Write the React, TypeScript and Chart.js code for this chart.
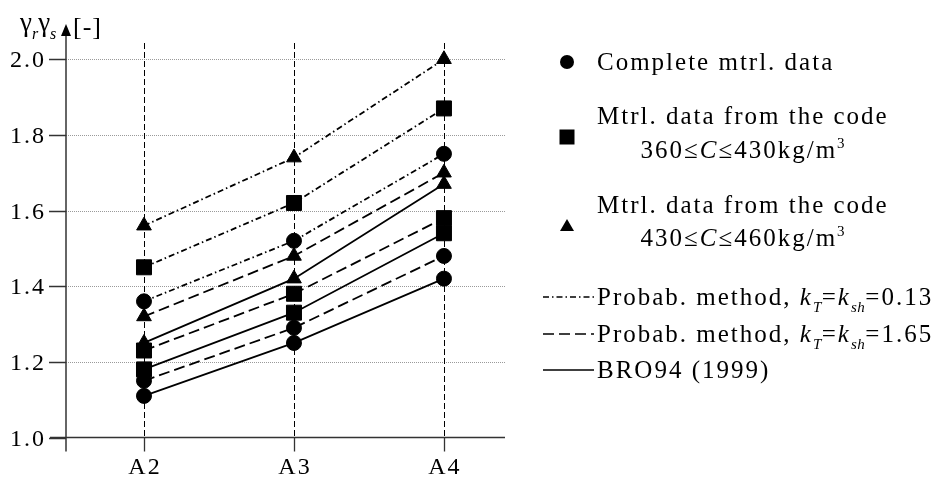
import React, { useEffect, useRef } from "react";
import { Chart, registerables } from "chart.js";

Chart.register(...registerables);

const categories = ["A2", "A3", "A4"];
const yTicks = [1.0, 1.2, 1.4, 1.6, 1.8, 2.0];

// Complete mtrl. data (circles)
const completeP013 = [1.36, 1.52, 1.75];
const completeP165 = [1.15, 1.29, 1.48];
const completeBRO = [1.11, 1.25, 1.42];
// Mtrl. data from the code 360<=C<=430 (squares)
const code360P013 = [1.45, 1.62, 1.87];
const code360P165 = [1.23, 1.38, 1.58];
const code360BRO = [1.18, 1.33, 1.54];
// Mtrl. data from the code 430<=C<=460 (triangles)
const code430P013 = [1.56, 1.74, 2.0];
const code430P165 = [1.32, 1.48, 1.7];
const code430BRO = [1.25, 1.42, 1.67];

const FONT = '"Liberation Serif", "Times New Roman", serif';
const DASHDOT = [6, 3, 1.5, 3];
const DASHED = [11, 5];

type Seg = { t: string; italic?: boolean; sub?: boolean; sup?: boolean };

function segFont(s: Seg, size: number) {
  const sz = s.sub || s.sup ? Math.round(size * 0.6) : size;
  return `${s.italic ? "italic " : ""}${sz}px ${FONT}`;
}

function segSpacing(s: Seg, spacing: number) {
  return s.sub || s.sup ? Math.min(spacing, 0.5) : spacing;
}

function drawRich(
  ctx: CanvasRenderingContext2D,
  segs: Seg[],
  x: number,
  y: number,
  size: number,
  align: "left" | "center" | "right",
  spacing = 2
) {
  ctx.save();
  ctx.textAlign = "left";
  ctx.textBaseline = "alphabetic";
  ctx.fillStyle = "#000";
  const widths = segs.map((s) => {
    (ctx as any).letterSpacing = segSpacing(s, spacing) + "px";
    ctx.font = segFont(s, size);
    return ctx.measureText(s.t).width;
  });
  const total = widths.reduce((a, b) => a + b, 0);
  let cx = align === "left" ? x : align === "center" ? x - total / 2 : x - total;
  segs.forEach((s, i) => {
    (ctx as any).letterSpacing = segSpacing(s, spacing) + "px";
    ctx.font = segFont(s, size);
    let dy = 0;
    if (s.sub) dy = size * 0.28;
    if (s.sup) dy = -size * 0.4;
    ctx.fillText(s.t, cx, y + dy);
    cx += widths[i];
  });
  ctx.restore();
  return total;
}

function textWidth(ctx: CanvasRenderingContext2D, segs: Seg[], size: number, spacing = 2) {
  ctx.save();
  let w = 0;
  segs.forEach((s) => {
    (ctx as any).letterSpacing = segSpacing(s, spacing) + "px";
    ctx.font = segFont(s, size);
    w += ctx.measureText(s.t).width;
  });
  ctx.restore();
  return w;
}

function line(ctx: CanvasRenderingContext2D, x1: number, y1: number, x2: number, y2: number) {
  ctx.beginPath();
  ctx.moveTo(x1, y1);
  ctx.lineTo(x2, y2);
  ctx.stroke();
}

const customPlugin = {
  id: "customAxes",
  beforeDatasetsDraw(chart: any) {
    const { ctx, chartArea: a, scales } = chart;
    const x = scales.x;
    const y = scales.y;
    ctx.save();
    // dotted horizontal grid
    ctx.strokeStyle = "#9a9a9a";
    ctx.lineWidth = 1;
    ctx.setLineDash([1, 1]);
    yTicks.forEach((v) => {
      if (v <= 1.0) return;
      const py = Math.round(y.getPixelForValue(v)) + 0.5;
      line(ctx, a.left, py, a.right, py);
    });
    // vertical dashed lines at categories
    ctx.strokeStyle = "#000";
    ctx.setLineDash([6, 3]);
    categories.forEach((_, i) => {
      const px = Math.round(x.getPixelForValue(i)) + 0.5;
      line(ctx, px, a.top + 14, px, a.bottom);
    });
    ctx.setLineDash([]);
    ctx.strokeStyle = "#333";
    ctx.lineWidth = 1.3;
    categories.forEach((_, i) => {
      const px = Math.round(x.getPixelForValue(i)) + 0.5;
      line(ctx, px, a.bottom, px, a.bottom + 14);
    });
    // x axis
    const by = y.getPixelForValue(1.0);
    ctx.lineWidth = 1.5;
    line(ctx, a.left - 16, by, a.right, by);
    // y axis
    line(ctx, a.left, a.bottom + 14, a.left, a.top + 2);
    // y ticks
    yTicks.forEach((v) => {
      const py = Math.round(y.getPixelForValue(v)) + 0.5;
      line(ctx, a.left - 17, py, a.left, py);
    });
    // arrow head
    ctx.fillStyle = "#000";
    ctx.beginPath();
    ctx.moveTo(a.left, a.top - 5);
    ctx.lineTo(a.left - 5, a.top + 7);
    ctx.lineTo(a.left + 5, a.top + 7);
    ctx.closePath();
    ctx.fill();
    ctx.restore();
  },
  afterDraw(chart: any) {
    const { ctx, chartArea: a, scales } = chart;
    const x = scales.x;
    const y = scales.y;
    // y tick labels
    yTicks.forEach((v) => {
      const py = y.getPixelForValue(v);
      drawRich(ctx, [{ t: v.toFixed(1) }], a.left - 20, py + 8, 24, "right", 2);
    });
    // x labels
    categories.forEach((c, i) => {
      const px = x.getPixelForValue(i);
      drawRich(ctx, [{ t: c }], px + 1, a.bottom + 36, 24, "center", 2);
    });
    // axis title
    drawRich(
      ctx,
      [{ t: "γ" }, { t: "r", italic: true, sub: true }, { t: "γ" }, { t: "s", italic: true, sub: true }],
      20,
      31,
      27,
      "left",
      0
    );
    drawRich(ctx, [{ t: "[-]" }], 73, 35, 26, "left", 1);

    // legend
    const lx = 567;
    const tx = 597;
    const size = 25;
    ctx.save();
    ctx.fillStyle = "#000";
    // circle
    ctx.beginPath();
    ctx.arc(lx, 62, 7, 0, Math.PI * 2);
    ctx.fill();
    // square
    ctx.fillRect(lx - 7.5, 137 - 7.5, 15, 15);
    // triangle
    ctx.beginPath();
    ctx.moveTo(lx, 219);
    ctx.lineTo(lx - 7, 231);
    ctx.lineTo(lx + 7, 231);
    ctx.closePath();
    ctx.fill();
    // line samples
    ctx.strokeStyle = "#000";
    ctx.lineWidth = 1.7;
    ctx.setLineDash(DASHDOT);
    line(ctx, 543, 297, 594, 297);
    ctx.setLineDash(DASHED);
    line(ctx, 543, 334, 594, 334);
    ctx.setLineDash([]);
    line(ctx, 543, 370, 594, 370);
    ctx.restore();

    drawRich(ctx, [{ t: "Complete mtrl. data" }], tx, 70, size, "left");
    const l2: Seg[] = [{ t: "Mtrl. data from the code" }];
    const w2 = textWidth(ctx, l2, size);
    drawRich(ctx, l2, tx, 124, size, "left");
    drawRich(
      ctx,
      [{ t: "360≤" }, { t: "C", italic: true }, { t: "≤430kg/m" }, { t: "3", sup: true }],
      tx + w2 / 2,
      158,
      size,
      "center"
    );
    drawRich(ctx, l2, tx, 213, size, "left");
    drawRich(
      ctx,
      [{ t: "430≤" }, { t: "C", italic: true }, { t: "≤460kg/m" }, { t: "3", sup: true }],
      tx + w2 / 2,
      246,
      size,
      "center"
    );
    const kSegs = (val: string): Seg[] => [
      { t: "Probab. method, " },
      { t: "k", italic: true },
      { t: "T", italic: true, sub: true },
      { t: "=" },
      { t: "k", italic: true },
      { t: "sh", italic: true, sub: true },
      { t: "=" + val },
    ];
    drawRich(ctx, kSegs("0.13"), tx, 305, size, "left");
    drawRich(ctx, kSegs("1.65"), tx, 342, size, "left");
    drawRich(ctx, [{ t: "BRO94 (1999)" }], tx, 378, size, "left");
  },
};

function series(values: number[], style: string, radius: number, dash: number[], label: string) {
  return {
    label,
    data: values.map((v, i) => ({ x: i, y: v })),
    borderColor: "#000",
    backgroundColor: "#000",
    borderWidth: 1.8,
    borderDash: dash,
    pointStyle: style,
    pointRadius: radius,
    pointBackgroundColor: "#000",
    pointBorderColor: "#000",
    pointBorderWidth: 1,
    fill: false,
    tension: 0,
    clip: false,
  };
}

export default function App() {
  const ref = useRef<HTMLCanvasElement | null>(null);
  useEffect(() => {
    if (!ref.current) return;
    const chart = new Chart(ref.current, {
      type: "line",
      data: {
        datasets: [
          series(completeP013, "circle", 7.5, DASHDOT, "Complete P 0.13"),
          series(completeP165, "circle", 7.5, DASHED, "Complete P 1.65"),
          series(completeBRO, "circle", 7.5, [], "Complete BRO94"),
          series(code360P013, "rect", 10.6, DASHDOT, "360 P 0.13"),
          series(code360P165, "rect", 10.6, DASHED, "360 P 1.65"),
          series(code360BRO, "rect", 10.6, [], "360 BRO94"),
          series(code430P013, "triangle", 8.5, DASHDOT, "430 P 0.13"),
          series(code430P165, "triangle", 8.5, DASHED, "430 P 1.65"),
          series(code430BRO, "triangle", 8.5, [], "430 BRO94"),
        ] as any,
      },
      options: {
        animation: false,
        responsive: false,
        events: [],
        layout: { padding: { left: 66, right: 436, top: 29, bottom: 39.5 } },
        plugins: { legend: { display: false }, tooltip: { enabled: false } },
        scales: {
          x: { type: "linear", min: -0.52, max: 2.407, display: false },
          y: { type: "linear", min: 1.0, max: 2.08, display: false },
        },
      },
      plugins: [customPlugin],
    });
    return () => chart.destroy();
  }, []);
  return (
    <canvas
      ref={ref}
      width={941}
      height={477}
      style={{ position: "fixed", left: 0, top: 0, width: 941, height: 477, background: "#fff" }}
    />
  );
}
